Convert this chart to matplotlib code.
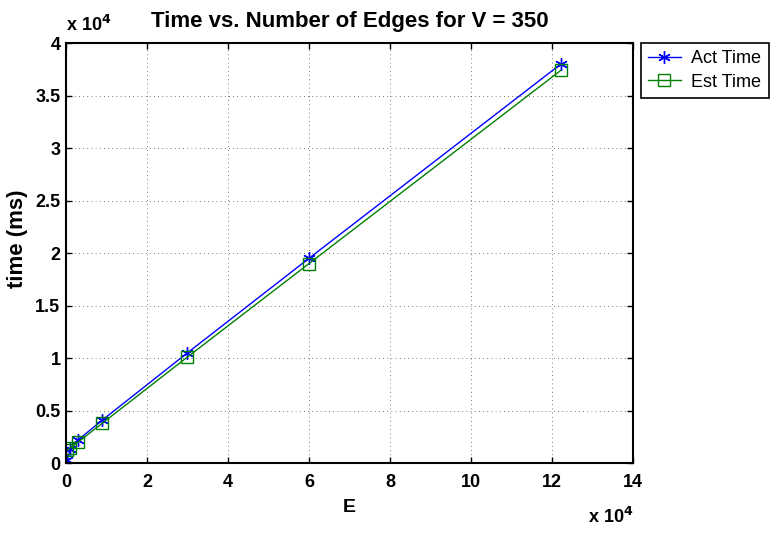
import matplotlib
matplotlib.use('Agg')
import matplotlib.pyplot as plt
from matplotlib.ticker import FuncFormatter, MultipleLocator

# Data (E in edges, time in ms)
edges = [350, 1000, 3000, 9000, 30000, 60000, 122150]
act_time = [300, 1300, 2200, 4100, 10500, 19500, 38000]
est_time = [1250, 1450, 2000, 3800, 10100, 19000, 37400]

plt.rcParams['font.family'] = ['Liberation Sans', 'DejaVu Sans']

fig = plt.figure(figsize=(7.8, 5.33), dpi=100)
ax = fig.add_axes([0.0846, 0.1313, 0.7269, 0.7877])

ax.plot(edges, act_time, color='blue', marker=(6, 2, 0), markersize=9, markeredgewidth=1,
        linewidth=1, label='Act Time')
ax.plot(edges, est_time, color='green', marker='s', markersize=8, markerfacecolor='none',
        linewidth=1, label='Est Time')

ax.set_xlim(0, 140000)
ax.set_ylim(0, 40000)
ax.xaxis.set_major_locator(MultipleLocator(20000))
ax.yaxis.set_major_locator(MultipleLocator(5000))
ax.xaxis.set_major_formatter(FuncFormatter(lambda v, p: '%g' % (v / 1e4)))
ax.yaxis.set_major_formatter(FuncFormatter(lambda v, p: '%g' % (v / 1e4)))

ax.grid(True, color='black', linestyle=(0, (1, 4)), linewidth=0.6, alpha=0.7)
ax.tick_params(direction='in', length=4, width=1, top=True, right=True, labelsize=13)
ax.tick_params(axis='x', pad=8)
ax.tick_params(axis='y', pad=4)
for lab in ax.get_xticklabels() + ax.get_yticklabels():
    lab.set_fontweight('bold')
for s in ax.spines.values():
    s.set_linewidth(1.5)

ax.set_title('Time vs. Number of Edges for V = 350', fontsize=16, fontweight='bold', pad=12)
ax.set_xlabel('E', fontsize=14, fontweight='bold', labelpad=6)
ax.set_ylabel('time (ms)', fontsize=16, fontweight='bold')
ax.yaxis.set_label_coords(-0.067, 0.535)

# exponent labels as in the original
ax.text(0.0, 1.02, r'x 10$^{\mathbf{4}}$', transform=ax.transAxes, fontsize=13,
        fontweight='bold', ha='left', va='bottom')
ax.text(1.0, -0.104, r'x 10$^{\mathbf{4}}$', transform=ax.transAxes, fontsize=13,
        fontweight='bold', ha='right', va='top')

leg = ax.legend(loc='upper left', bbox_to_anchor=(1.014, 1.0), fancybox=False,
                edgecolor='black', framealpha=1, fontsize=13, borderaxespad=0,
                handlelength=1.8, handletextpad=0.6, borderpad=0.4, labelspacing=0.35)
leg.get_frame().set_linewidth(1.2)

fig.savefig('out.png', dpi=100)
